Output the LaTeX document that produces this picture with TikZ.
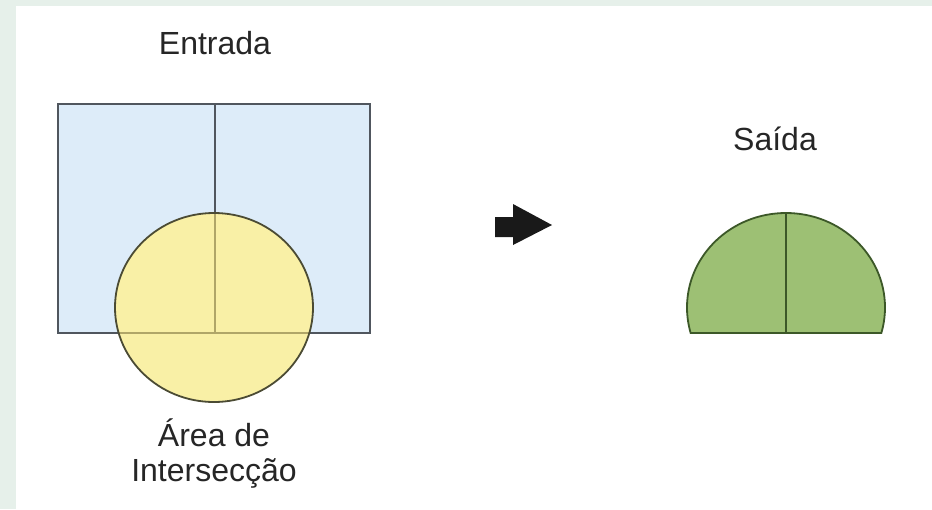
\documentclass[tikz,border=0pt]{standalone}
\usepackage{fontspec}
\setmainfont{Liberation Sans}
\usepackage{xcolor}
\usepackage{tikz}
\usetikzlibrary{positioning}
\definecolor{pagebg}{RGB}{230,240,234}
\definecolor{rectfill}{RGB}{221,236,249}
\definecolor{rectedge}{RGB}{80,86,94}
\definecolor{circfill}{RGB}{249,240,166}
\definecolor{circedge}{RGB}{75,75,52}
\definecolor{seenline}{RGB}{176,166,104}
\definecolor{outfill}{RGB}{157,192,116}
\definecolor{outedge}{RGB}{60,88,40}
\tikzset{
  lbl/.style   ={font=\fontsize{32}{35}\selectfont, text=black!85, inner sep=0pt,
                 anchor=base, align=center},
  inrect/.style={draw=rectedge, fill=rectfill, line width=1.8pt},
  incirc/.style={draw=circedge, line width=1.8pt},
  outshp/.style={draw=outedge, fill=outfill, line width=1.8pt},
  blkarr/.style={fill=black!90, draw=none},
}
\begin{document}
\begin{tikzpicture}[x=1pt, y=-1pt]
  \fill[pagebg] (0,0) rectangle (932,509);
  \fill[white] (16,6) rectangle (932,509);
  \useasboundingbox (0,0) rectangle (932,509);

  % input: rectangle with divider, circle on top
  \draw[inrect] (58,104) rectangle (370,333);
  \draw[rectedge, line width=1.8pt] (215,104) -- (215,333);
  \fill[circfill] (214,307.5) ellipse [x radius=99, y radius=94.5];
  \begin{scope}
    \clip (214,307.5) ellipse [x radius=99, y radius=94.5];
    \draw[seenline, line width=2.4pt] (215,200) -- (215,333) (100,333) -- (330,333);
  \end{scope}
  \draw[incirc] (214,307.5) ellipse [x radius=99, y radius=94.5];

  \node[lbl] (entrada) at (215,54) {Entrada};
  \node[lbl] (area) at (214,481) {Área de\\Intersecção};

  % block arrow
  \fill[blkarr] (495,217) -- (513,217) -- (513,204) -- (552,225)
    -- (513,245) -- (513,237) -- (495,237) -- cycle;

  % output: part of the circle inside the rectangle
  \begin{scope}
    \clip (680,200) rectangle (900,333);
    \draw[outshp] (786,307.5) ellipse [x radius=99, y radius=94.5];
  \end{scope}
  \draw[outedge, line width=1.8pt] (690.5,333) -- (881.5,333);
  \draw[outedge, line width=1.8pt] (786,213) -- (786,333);

  \node[lbl] (saida) at (775,150) {Saída};
\end{tikzpicture}
\end{document}
